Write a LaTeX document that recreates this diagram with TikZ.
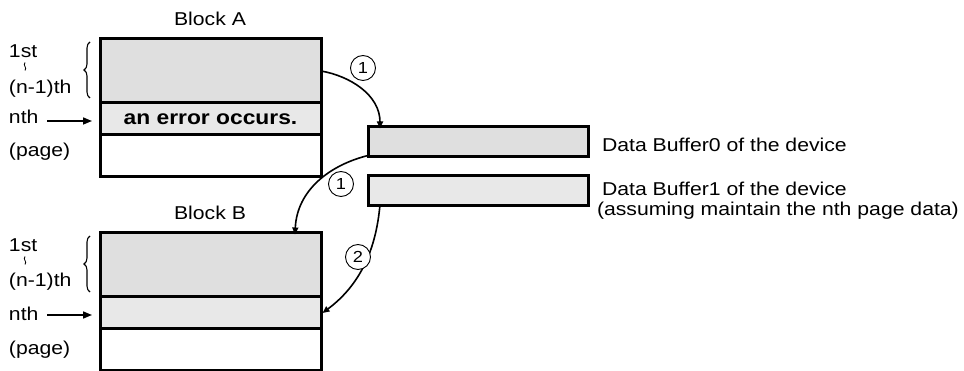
\documentclass[tikz,border=0pt]{standalone}
\usepackage{fontspec}
\setmainfont{Liberation Sans}[FakeStretch=1.14]
\usetikzlibrary{arrows.meta,decorations.pathreplacing,shapes.geometric}
\begin{document}
\begin{tikzpicture}[x=1pt,y=-1pt,
  every node/.style={inner sep=0pt, outer sep=0pt},
  lbl/.style={font=\fontsize{18.6}{20}\selectfont, anchor=base west},
  row/.style={draw=black, line width=3pt, minimum width=221pt},
  gA/.style={fill=gray!25},
  gB/.style={fill=gray!18},
  buf/.style={draw=black, line width=3pt, minimum width=220pt, minimum height=30pt},
  tag/.style={draw=black, line width=0.9pt, circle, minimum size=25pt, font=\fontsize{16}{16}\selectfont},
  flow/.style={line width=1.6pt, -{Triangle[length=7pt,width=6pt]}},
  pointer/.style={line width=1.6pt, -{Triangle[length=9pt,width=7pt]}},
  squigline/.style={line width=0.8pt},
  bracedeco/.style={decorate, decoration={brace, amplitude=6pt}, line width=1.1pt}
]
\useasboundingbox (0,0) rectangle (964,371);

% Block A
\node[lbl, anchor=base] (labA) at (210,25.7) {Block A};
\node[row, gA, minimum height=64pt] (Atop) at (210.5,71) {};
\node[row, gB, minimum height=32pt, font=\fontsize{20}{20}\selectfont\bfseries] (An) at (210.5,119) {an error occurs.};
\node[row, fill=white, minimum height=42pt] (Apage) at (210.5,156) {};

\node[lbl] (A1st) at (9,58) {1st};
\coordinate (Asq1) at (25,62.5);
\coordinate (Asq2) at (25,70.5);
\draw[squigline] (Asq1) .. controls (22.5,65.5) and (27.5,67.5) .. (Asq2);
\node[lbl] (Anm) at (9,93.5) {(n-1)th};
\node[lbl] (Anth) at (9,123.5) {nth};
\node[lbl] (Apg) at (9,157) {(page)};
\coordinate (Abr1) at (90,98);
\coordinate (Abr2) at (90,42);
\draw[bracedeco] (Abr1) -- (Abr2);
\coordinate (Aarr) at (47,121);
\coordinate (Aarre) at (92,121);
\draw[pointer] (Aarr) -- (Aarre);

% Block B
\node[lbl, anchor=base] (labB) at (210,220) {Block B};
\node[row, gA, minimum height=64pt] (Btop) at (210.5,265) {};
\node[row, gB, minimum height=32pt] (Bn) at (210.5,313) {};
\node[row, fill=white, minimum height=41pt] (Bpage) at (210.5,349.5) {};

\node[lbl] (B1st) at (9,252) {1st};
\coordinate (Bsq1) at (25,256.5);
\coordinate (Bsq2) at (25,264.5);
\draw[squigline] (Bsq1) .. controls (22.5,259.5) and (27.5,261.5) .. (Bsq2);
\node[lbl] (Bnm) at (9,287) {(n-1)th};
\node[lbl] (Bnth) at (9,320) {nth};
\node[lbl] (Bpg) at (9,355) {(page)};
\coordinate (Bbr1) at (90,292);
\coordinate (Bbr2) at (90,236);
\draw[bracedeco] (Bbr1) -- (Bbr2);
\coordinate (Barr) at (47,315);
\coordinate (Barre) at (92,315);
\draw[pointer] (Barr) -- (Barre);

% Buffers
\node[buf, gA] (buf0) at (478,142) {};
\node[buf, gB] (buf1) at (478,191) {};
\node[lbl] (b0t) at (602,151.7) {Data Buffer0 of the device};
\node[lbl] (b1t) at (602,196) {Data Buffer1 of the device};
\node[lbl] (b1s) at (597,216) {(assuming maintain the nth page data)};

% Flows
\draw[flow] (Atop.east) .. controls (350,76) and (380,95) .. ([xshift=12pt,yshift=-1.5pt]buf0.north west);
\draw[flow] ([yshift=1.5pt]buf0.south west) .. controls (330,165) and (297,190) .. ([xshift=-26pt,yshift=-1.5pt]Btop.north east);
\draw[flow] ([xshift=12pt,yshift=1.5pt]buf1.south west) .. controls (376,250) and (360,285) .. ([xshift=1.5pt]Bn.east);

\node[tag, fill=white] (t1) at (363,68) {1};
\node[tag, fill=white] (t2) at (341,184) {1};
\node[tag, fill=white] (t3) at (358,257) {2};
\end{tikzpicture}
\end{document}
